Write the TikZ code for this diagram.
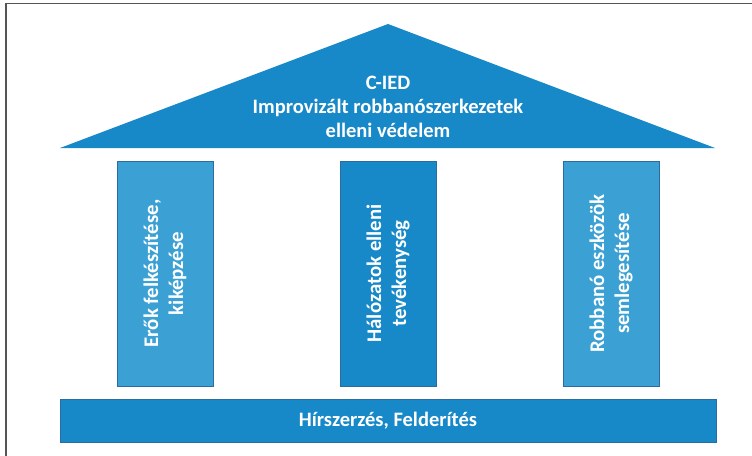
\documentclass[tikz,border=0pt]{standalone}
\usepackage{fontspec}
\setmainfont{Carlito}
\usepackage{xcolor}
\definecolor{roofblue}{HTML}{1788C8}
\definecolor{pillarblue}{HTML}{3BA1D5}
\definecolor{edgeblue}{HTML}{2B6B9F}
\definecolor{framegray}{HTML}{555555}
\tikzset{
  pillar/.style={draw=edgeblue, line width=0.8pt, rotate=90, minimum width=225pt,
    minimum height=96pt, inner sep=0pt, align=center, text=white,
    font=\fontsize{20.8}{25}\selectfont\bfseries},
  label/.style={text=white, align=center, font=\fontsize{20.5}{24}\selectfont\bfseries}
}
\begin{document}
\begin{tikzpicture}[x=1pt, y=-1pt]
    \useasboundingbox (0,0) rectangle (752,455);
    \draw[framegray, line width=1.5pt] (6,456) -- (6,3.5) -- (753,3.5);
    % roof
    \coordinate (roofL) at (60,148);
    \coordinate (roofR) at (715,148);
    \coordinate (apex) at (388,24);
    \fill[roofblue] (roofL) -- (apex) -- (roofR) -- cycle;
    \node[label] (cied) at (388,107) {C-IED\\Improvizált robbanószerkezetek\\elleni védelem};
    % pillars
    \node[pillar, fill=pillarblue] (forces) at (165,273.5) {Erők felkészítése,\\kiképzése};
    \node[pillar, fill=roofblue] (network) at (388,273.5) {Hálózatok elleni\\tevékenység};
    \node[pillar, fill=pillarblue] (defeat) at (611,273.5) {Robbanó eszközök\\semlegesítése};
    % base
    \node[label, fill=roofblue, draw=edgeblue, line width=0.6pt, minimum width=656pt,
      minimum height=43pt, inner sep=0pt] (intel) at (388,420.5) {Hírszerzés, Felderítés};
  \end{tikzpicture}
\end{document}
